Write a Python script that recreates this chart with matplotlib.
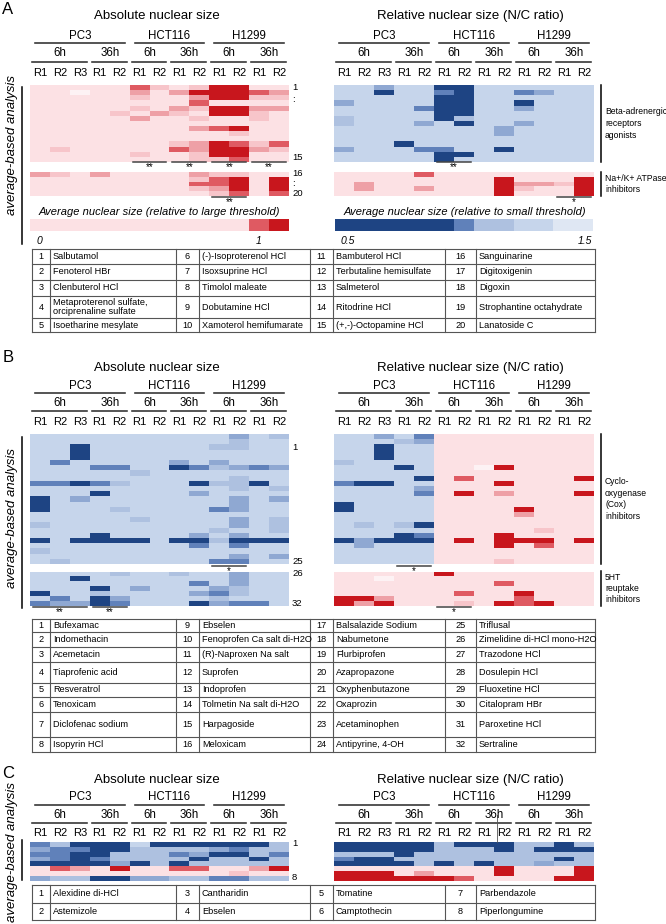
import numpy as np
import matplotlib
matplotlib.use('Agg')
import matplotlib.pyplot as plt
from matplotlib.colors import ListedColormap, BoundaryNorm

W, H = 666, 924
plt.rcParams['font.family'] = ['Liberation Sans', 'DejaVu Sans']

# cell level codes: reds '0'(background)..'4'(dark), blues 'a'(background)..'e'(dark), 'w'/'v' near white
CODES = ['w', '0', '1', '2', '3', '4', 'v', 'a', 'b', 'c', 'd', 'e']
COLORS = ['#fdf2f4', '#fce1e4', '#f7c5ca', '#eea0a6', '#df5a62', '#c8161d',
          '#dfe7f3', '#c6d5eb', '#aec1e0', '#8fa8d2', '#6081ba', '#1e4483']

reps = ['R1', 'R2', 'R3', 'R1', 'R2', 'R1', 'R2', 'R1', 'R2', 'R1', 'R2', 'R1', 'R2']
groups = [('PC3', 0, 5), ('HCT116', 5, 9), ('H1299', 9, 13)]
times = [('6h', 0, 3), ('36h', 3, 5), ('6h', 5, 7), ('36h', 7, 9), ('6h', 9, 11), ('36h', 11, 13)]

# ---- panel A ----
a_abs_top = ['0000031014400', '00w0020244432', '0000010024411', '0000000030000',
             '0000010214422', '0000102104410', '0000020010010', '0000000000000',
             '0000000023400', '0000000000100', '0000000000000', '0000000124313',
             '0100000324421', '0000010014400', '0000000011300']
a_abs_bot = ['2102000021100', '0000000013404', '0000000033404', '0000000012404', '0000000001303']
a_rel_top = ['aacaaeeaaaaaa', 'aaeaadeaadcaa', 'aaaaaeeaaaaaa', 'caaaaeeaaeaaa',
             'aaaadeeaacaaa', 'aaaaaeeaaaaaa', 'baaaaebaaaaaa', 'baaacaeaacaaa',
             'aaaaaaaacaaaa', 'aaaaaaaacaaaa', 'aaaaaaaaaaaaa', 'aaaeaaaaaaaaa',
             'caaaddaaeaaaa', 'aaaaaeeaaaaaa', 'aaaaaeaaaaaaa']
a_rel_bot = ['0000300000000', '0000000040004', '0200000042214', '0200200041004', '0000000040004']
a_cbar_left = '0000000000034'
a_cbar_right = 'eeeeeedbbaavv'
a_names = [
    [('1', 'Salbutamol'), ('2', 'Fenoterol HBr'), ('3', 'Clenbuterol HCl'),
     ('4', 'Metaproterenol sulfate,\norciprenaline sulfate'), ('5', 'Isoetharine mesylate')],
    [('6', '(-)-Isoproterenol HCl'), ('7', 'Isoxsuprine HCl'), ('8', 'Timolol maleate'),
     ('9', 'Dobutamine HCl'), ('10', 'Xamoterol hemifumarate')],
    [('11', 'Bambuterol HCl'), ('12', 'Terbutaline hemisulfate'), ('13', 'Salmeterol'),
     ('14', 'Ritodrine HCl'), ('15', '(+,-)-Octopamine HCl')],
    [('16', 'Sanguinarine'), ('17', 'Digitoxigenin'), ('18', 'Digoxin'),
     ('19', 'Strophantine octahydrate'), ('20', 'Lanatoside C')]]

# ---- panel B ----
b_abs_top = ['aaaaaaaaaacab', 'aaaaaaaaaabaa', 'aaeaaaaaabbaa', 'aaeaaaaaaaaaa',
             'aaeaaaaaaaaaa', 'adaaaaacacaaa', 'aaaddaaedbcdc', 'aaaaabaaaaaaa',
             'aaaaaaaaaabaa', 'ddedbaaaebbea', 'aaaaaaaaaabab', 'aaaeaaaacaaaa',
             'eacaaaaaaacac', 'eaaaaaaaaacaa', 'eaaabaaaadcaa', 'aaaaaaaaaaaaa',
             'aaaaabaaaacab', 'baaaaaaaaacab', 'aaaaaaaaabaab', 'aaaeaaaacacaa',
             'eaeeeeaeebeee', 'aaaaaaaadadaa', 'baaaaaaaaaaaa', 'aaaaaaaaaacac',
             'abaaaaaaaddaa']
b_abs_bot = ['aaaabaabaacaa', 'aaeaaaaaaacaa', 'aaaaaaaadacaa', 'aaaeacaaacbaa',
             'eaabaaaacdbaa', 'adaecaaaabaaa', 'dccedaaaecdda']
b_rel_top = ['aacad00000000', 'aaabc00000000', 'aaeaa00000000', 'aaeaa00000000',
             'aaeaa00000000', 'baaaa00000000', 'aaaea00w40000', 'aaaaa00000000',
             'aaaae03000004', 'deeaa00040000', 'aaaac00000000', 'aaaad04020004',
             'aaaaa00000000', 'eaaaa00000000', 'eaaaa00004000', 'aaaaa00002000',
             'aaaaa00000000', 'ababe00000000', 'aaaaa00000100', 'aaaed00040000',
             'eceee04044404', 'acaaa00040300', 'aaaaa00000000', 'aaaaa00000000',
             'aaaaa00010000']
b_rel_bot = ['0000040000000', '00w0000000000', '0000000030000', '0000000000000',
             '0000003004000', '4420000003000', '4240001043400']
b_names = [
    [('1', 'Bufexamac'), ('2', 'Indomethacin'), ('3', 'Acemetacin'), ('4', 'Tiaprofenic acid'),
     ('5', 'Resveratrol'), ('6', 'Tenoxicam'), ('7', 'Diclofenac sodium'), ('8', 'Isopyrin HCl')],
    [('9', 'Ebselen'), ('10', 'Fenoprofen Ca salt di-H2O'), ('11', '(R)-Naproxen Na salt'),
     ('12', 'Suprofen'), ('13', 'Indoprofen'), ('14', 'Tolmetin Na salt di-H2O'),
     ('15', 'Harpagoside'), ('16', 'Meloxicam')],
    [('17', 'Balsalazide Sodium'), ('18', 'Nabumetone'), ('19', 'Flurbiprofen'),
     ('20', 'Azapropazone'), ('21', 'Oxyphenbutazone'), ('22', 'Oxaprozin'),
     ('23', 'Acetaminophen'), ('24', 'Antipyrine, 4-OH')],
    [('25', 'Triflusal'), ('26', 'Zimelidine di-HCl mono-H2O'), ('27', 'Trazodone HCl'),
     ('28', 'Dosulepin HCl'), ('29', 'Fluoxetine HCl'), ('30', 'Citalopram HBr'),
     ('31', 'Paroxetine HCl'), ('32', 'Sertraline')]]

# ---- panel C ----
c_abs = ['dbeeeaeeeeeeb', 'cddeebbbbcdbb', 'ddeebbbdceebd', 'cdedbbbbebbeb',
         'eeeecebebbbbb', '0320400330024', '0000000000100', 'cbbeeccbbddbb']
c_rel = ['eeeeebeeebbeb', 'eeeeebbbebeee', 'bbbebbbbbbbbb', 'deebbbbbbbbeb',
         'eeeebebebbcbb', '0000000040004', '4440200040004', '4444443000044']
c_names = [[('1', 'Alexidine di-HCl'), ('2', 'Astemizole')],
           [('3', 'Cantharidin'), ('4', 'Ebselen')],
           [('5', 'Tomatine'), ('6', 'Camptothecin')],
           [('7', 'Parbendazole'), ('8', 'Piperlongumine')]]

cmap = ListedColormap(COLORS)
norm = BoundaryNorm(np.arange(len(CODES) + 1) - 0.5, len(CODES))
LC = '#2e2e2e'

fig = plt.figure(figsize=(W / 100, H / 100), dpi=100)
ov = fig.add_axes([0, 0, 1, 1])
ov.set_xlim(0, W); ov.set_ylim(H, 0); ov.axis('off'); ov.set_zorder(5)


def heat(rows, x0, x1, y0, y1):
    ax = fig.add_axes([x0 / W, 1 - y1 / H, (x1 - x0) / W, (y1 - y0) / H])
    m = np.array([[CODES.index(c) for c in r] for r in rows])
    ax.imshow(m, cmap=cmap, norm=norm, aspect='auto', interpolation='nearest')
    ax.axis('off')


def header(x0, x1, ys, title, tx, ty):
    cw = (x1 - x0) / 13
    ov.text(tx, ty, title, ha='center', va='center', fontsize=9.5)
    for name, a, b in groups:
        ov.text(x0 + (a + b) / 2 * cw, ys[0], name, ha='center', va='center', fontsize=8.3)
        ov.plot([x0 + a * cw + 5, x0 + b * cw - 5], [ys[1]] * 2, color=LC, lw=1.15)
    for name, a, b in times:
        ov.text(x0 + (a + b) / 2 * cw, ys[2], name, ha='center', va='center', fontsize=8.3)
        ov.plot([x0 + a * cw + 2, x0 + b * cw - 3], [ys[3]] * 2, color=LC, lw=1.15)
    for i, r in enumerate(reps):
        ov.text(x0 + (i + 0.5) * cw, ys[4], r, ha='center', va='center', fontsize=8)


def sig(x0, x1, a, b, y, stars):
    cw = (x1 - x0) / 13
    ov.plot([x0 + a * cw + 3, x0 + b * cw - 3], [y, y], color='#444444', lw=1.1)
    ov.text(x0 + (a + b) / 2 * cw, y + 0.5, stars, ha='center', va='top', fontsize=7)


def table(ys, xs, entries):
    for y in ys:
        ov.plot([xs[0], xs[-1]], [y, y], color='#555555', lw=0.8)
    for x in xs:
        ov.plot([x, x], [ys[0], ys[-1]], color='#555555', lw=0.8)
    for g, col in enumerate(entries):
        for i, (num, name) in enumerate(col):
            yc = (ys[i] + ys[i + 1]) / 2
            ov.text((xs[2 * g] + xs[2 * g + 1]) / 2, yc, num, ha='center', va='center', fontsize=6.6)
            ov.text(xs[2 * g + 1] + 3, yc, name, ha='left', va='center', fontsize=6.6, linespacing=1.0)


def side_label(x, y0, y1, txt, ls):
    ov.plot([x, x], [y0, y1], color='black', lw=1.1)
    ov.text(x + 4, (y0 + y1) / 2, txt, ha='left', va='center', fontsize=6.2, linespacing=ls)


LX0, LX1, RX0, RX1 = 30, 289, 334, 594
TXS = [32, 50, 176, 199, 310, 333, 445, 476, 595]

# ===== A =====
ov.text(8, 9, 'A', ha='center', va='center', fontsize=12)
header(LX0, LX1, (36, 43, 53, 62, 73), 'Absolute nuclear size', 157, 16)
header(RX0, RX1, (36, 43, 53, 62, 73), 'Relative nuclear size (N/C ratio)', 470, 16)
heat(a_abs_top, LX0, LX1, 85, 162)
heat(a_abs_bot, LX0, LX1, 172, 196)
heat(a_rel_top, RX0, RX1, 85, 162)
heat(a_rel_bot, RX0, RX1, 172, 196)
for lab, y in [('1', 87), (':', 100), ('15', 157), ('16', 173), (':', 183), ('20', 193)]:
    ov.text(292, y, lab, ha='left', va='center', fontsize=6.8)
for a, b in [(5, 7), (7, 9), (9, 11), (11, 13)]:
    sig(LX0, LX1, a, b, 161.5, '**')
sig(LX0, LX1, 9, 11, 197, '**')
sig(RX0, RX1, 5, 7, 161.5, '**')
sig(RX0, RX1, 11, 13, 197, '*')
side_label(601, 85, 162, 'Beta-adrenergic\nreceptors\nagonists', 1.45)
side_label(601, 172, 196, 'Na+/K+ ATPase\ninhibitors', 1.35)
ov.text(12, 145, 'average-based analysis', rotation=90, ha='center', va='center', fontsize=9.5, style='italic')
ov.plot([22, 22], [87, 244], color='black', lw=1.1)
# colour scales
ov.text(159, 212, 'Average nuclear size (relative to large threshold)', ha='center', va='center',
        fontsize=8, style='italic')
ov.text(465, 212, 'Average nuclear size (relative to small threshold)', ha='center', va='center',
        fontsize=8, style='italic')
heat([a_cbar_left], 30, 289, 219, 231)
heat([a_cbar_right], 335, 593, 219, 231)
for lab, x in [('0', 39), ('1', 259), ('0.5', 348), ('1.5', 585)]:
    ov.text(x, 241, lab, ha='center', va='center', fontsize=7.5, style='italic')
table([249, 264, 280, 296, 318, 332], TXS, a_names)

# ===== B =====
ov.text(8, 358, 'B', ha='center', va='center', fontsize=12)
header(LX0, LX1, (386, 393, 403, 411, 422), 'Absolute nuclear size', 157, 368)
header(RX0, RX1, (386, 393, 403, 411, 422), 'Relative nuclear size (N/C ratio)', 470, 368)
heat(b_abs_top, LX0, LX1, 434, 564)
heat(b_abs_bot, LX0, LX1, 572, 606)
heat(b_rel_top, RX0, RX1, 434, 564)
heat(b_rel_bot, RX0, RX1, 572, 606)
for lab, y in [('1', 447), ('25', 561), ('26', 574), ('32', 603)]:
    ov.text(292, y, lab, ha='left', va='center', fontsize=6.8)
sig(LX0, LX1, 9, 11, 565.5, '*')
sig(LX0, LX1, 0, 3, 606.5, '**')
sig(LX0, LX1, 3, 5, 606.5, '**')
sig(RX0, RX1, 3, 5, 565.5, '*')
sig(RX0, RX1, 5, 7, 606.5, '*')
side_label(601, 434, 564, 'Cyclo-\noxygenase\n(Cox)\ninhibitors', 1.35)
side_label(601, 571, 606, '5HT\nreuptake\ninhibitors', 1.35)
ov.text(12, 518, 'average-based analysis', rotation=90, ha='center', va='center', fontsize=9.5, style='italic')
ov.plot([22, 22], [437, 608], color='black', lw=1.1)
table([619, 632, 647, 662, 683, 697, 712, 737, 752], TXS, b_names)

# ===== C =====
ov.text(8, 774, 'C', ha='center', va='center', fontsize=12)
header(LX0, LX1, (797, 805, 815, 823, 833), 'Absolute nuclear size', 157, 780)
header(RX0, RX1, (797, 805, 815, 823, 833), 'Relative nuclear size (N/C ratio)', 470, 780)
heat(c_abs, LX0, LX1, 842, 881)
heat(c_rel, RX0, RX1, 842, 881)
ov.text(292, 843, '1', ha='left', va='center', fontsize=6.8)
ov.text(292, 878, '8', ha='left', va='center', fontsize=6.8)
ov.plot([497, 497], [815, 842], color='#555555', lw=0.6)
ov.text(12, 852, 'average-based analysis', rotation=90, ha='center', va='center', fontsize=9.5, style='italic')
ov.plot([22, 22], [840, 880], color='black', lw=1.1)
table([885, 903, 920], TXS, c_names)

fig.savefig('out.png', dpi=100)
